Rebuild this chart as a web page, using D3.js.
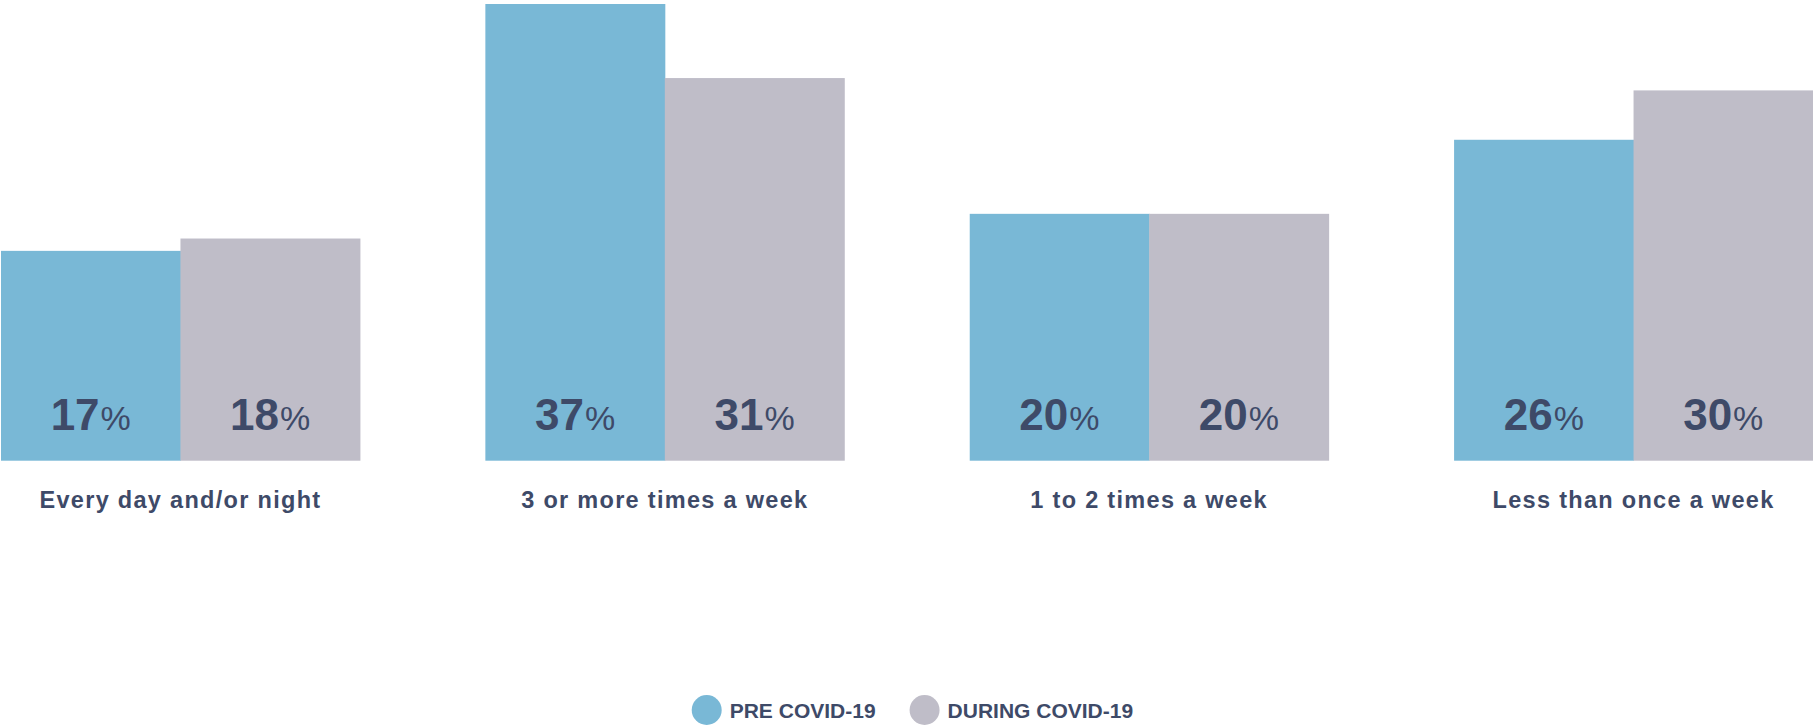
<!DOCTYPE html>
<html>
<head>
<meta charset="utf-8">
<script src="https://cdn.jsdelivr.net/npm/d3@7"></script>
<style>
  html, body { margin: 0; padding: 0; background: #ffffff; }
  svg { display: block; }
  text { font-family: "Liberation Sans", Arial, Helvetica, sans-serif; fill: #3e4a68; }
</style>
</head>
<body>
<svg id="chart" width="1813" height="725"></svg>
<script>
// Frequency categories and the share of respondents for each period
const categories = ["Every day and/or night", "3 or more times a week", "1 to 2 times a week", "Less than once a week"];
const seriesNames = ["PRE COVID-19", "DURING COVID-19"];
const preCovid = [17, 37, 20, 26];
const duringCovid = [18, 31, 20, 30];
const seriesColors = ["#79b8d6", "#bfbdc8"];

const rows = categories.map((c, i) => ({ category: c, values: [preCovid[i], duringCovid[i]] }));

const width = 1813, height = 725;
const baseline = 460.7;
const svg = d3.select("#chart");

const x0 = d3.scaleBand()
  .domain(categories)
  .range([1, 1813])
  .paddingInner(0.259)
  .paddingOuter(0);

const x1 = d3.scaleBand()
  .domain(seriesNames)
  .range([0, x0.bandwidth()])
  .padding(0);

const y = d3.scaleLinear()
  .domain([0, 37])
  .range([baseline, 4]);

const color = d3.scaleOrdinal().domain(seriesNames).range(seriesColors);

const groups = svg.append("g").selectAll("g")
  .data(rows)
  .join("g")
  .attr("transform", d => `translate(${x0(d.category)},0)`);

const bars = groups.selectAll("g.bar")
  .data(d => d.values.map((v, k) => ({ name: seriesNames[k], value: v })))
  .join("g")
  .attr("class", "bar");

bars.append("rect")
  .attr("x", d => x1(d.name))
  .attr("y", d => y(d.value))
  .attr("width", x1.bandwidth() + 0.5)
  .attr("height", d => baseline - y(d.value))
  .attr("fill", d => color(d.name));

// Value label inside each bar: large bold number with a lighter percent sign
const valueText = bars.append("text")
  .attr("x", d => x1(d.name) + x1.bandwidth() / 2)
  .attr("y", baseline - 31)
  .attr("text-anchor", "middle");
valueText.append("tspan")
  .attr("font-size", 44)
  .attr("font-weight", "bold")
  .text(d => d.value);
valueText.append("tspan")
  .attr("font-size", 34)
  .attr("dx", 1)
  .text("%");

// Category labels under each pair of bars
groups.append("text")
  .attr("x", x0.bandwidth() / 2)
  .attr("y", baseline + 47.6)
  .attr("text-anchor", "middle")
  .attr("font-size", 23.5)
  .attr("font-weight", "bold")
  .attr("letter-spacing", 1.3)
  .text(d => d.category);

// Legend
const legend = svg.append("g").attr("transform", "translate(691.7,710)");
let lx = 0;
seriesNames.forEach(name => {
  const item = legend.append("g").attr("transform", `translate(${lx},0)`);
  item.append("circle")
    .attr("cx", 15)
    .attr("cy", 0)
    .attr("r", 15)
    .attr("fill", color(name));
  const t = item.append("text")
    .attr("x", 38)
    .attr("y", 8.3)
    .attr("font-size", 21)
    .attr("font-weight", "bold")
    .text(name);
  lx += 38 + t.node().getComputedTextLength() + 34;
});
</script>
</body>
</html>
